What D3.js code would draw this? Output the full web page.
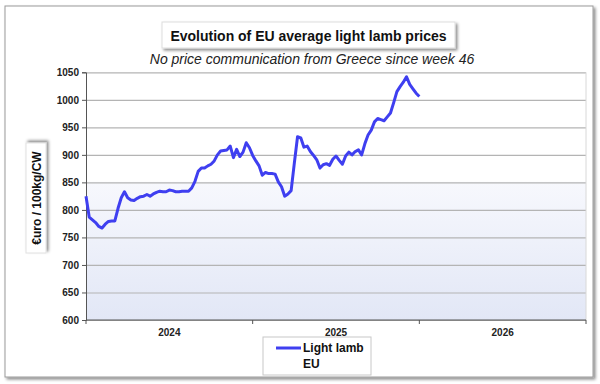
<!DOCTYPE html>
<html>
<head>
<meta charset="utf-8">
<script src="https://cdn.jsdelivr.net/npm/d3@7"></script>
<style>
  body { margin: 0; background: #fff; }
  svg { display: block; font-family: "Liberation Sans", Arial, sans-serif; }
  .axis text { font-size: 10px; font-weight: bold; fill: #222; }
</style>
</head>
<body>
<svg id="chart" width="600" height="384"></svg>
<script>
// === Data ===
const years = ['2024', '2025', '2026'];
const weeksPerYear = 52;
const yTicks = [600, 650, 700, 750, 800, 850, 900, 950, 1000, 1050];
// weekly EU light lamb price, €/100kg CW, from week 1 of 2024
const lightLamb = [
    825, 787, 782, 777, 770, 767, 774, 779, 780, 780,
    803, 822, 833, 822, 818, 817, 821, 824, 825, 828,
    825, 829, 832, 834, 833, 833, 836, 835, 833, 833,
    834, 834, 834, 840, 852, 870, 876, 876, 880, 883,
    889, 900, 907, 908, 909, 916, 895, 910, 897, 905,
    922, 913, 899, 889, 880, 863, 868, 866, 866, 865,
    851, 842, 825, 829, 835, 885, 933, 931, 914, 916,
    906, 899, 891, 876, 882, 884, 881, 892, 898, 890,
    883, 898, 905, 900, 906, 909, 900, 920, 936, 945,
    960, 966, 964, 962, 969, 976, 995, 1015, 1024, 1032,
    1042, 1028, 1020, 1012, 1006
];

const svg = d3.select('#chart');
const plot = { left: 86, right: 586, top: 72.3, bottom: 320 };

// Defs: shadow + background gradient
const defs = svg.append('defs');
const shadow = defs.append('filter').attr('id', 'shadow')
    .attr('x', '-10%').attr('y', '-10%').attr('width', '130%').attr('height', '140%');
shadow.append('feDropShadow')
    .attr('dx', 2).attr('dy', 2).attr('stdDeviation', 1.5)
    .attr('flood-color', '#000').attr('flood-opacity', 0.45);

const grad = defs.append('linearGradient').attr('id', 'bg')
    .attr('x1', 0).attr('y1', 0).attr('x2', 0).attr('y2', 1);
grad.append('stop').attr('offset', '0%').attr('stop-color', '#ffffff');
grad.append('stop').attr('offset', '44%').attr('stop-color', '#ffffff');
grad.append('stop').attr('offset', '44.5%').attr('stop-color', '#f7f8fd');
grad.append('stop').attr('offset', '100%').attr('stop-color', '#e2e7f6');

// Outer frame
svg.append('rect')
    .attr('x', 5).attr('y', 6).attr('width', 588).attr('height', 371)
    .attr('fill', '#fff').attr('stroke', '#9a9a9a').attr('stroke-width', 1)
    .attr('filter', 'url(#shadow)');

// Scales
const x = d3.scaleLinear()
    .domain([0, years.length * weeksPerYear])
    .range([plot.left, plot.right]);
const xBand = d3.scaleBand().domain(years).range([plot.left, plot.right]);
const y = d3.scaleLinear().domain([600, 1050]).range([plot.bottom, plot.top]);

// Plot background
svg.append('rect')
    .attr('x', plot.left).attr('y', plot.top)
    .attr('width', plot.right - plot.left).attr('height', plot.bottom - plot.top)
    .attr('fill', 'url(#bg)');

// Gridlines
svg.append('g')
    .attr('transform', `translate(${plot.left},0)`)
    .call(d3.axisLeft(y).tickValues(yTicks).tickSize(-(plot.right - plot.left)).tickFormat(''))
    .call(g => g.select('.domain').remove())
    .call(g => g.selectAll('line').attr('stroke', '#b4b4b4').attr('stroke-width', 1.2));

// right edge of plot
svg.append('line')
    .attr('x1', plot.right).attr('x2', plot.right)
    .attr('y1', plot.top).attr('y2', plot.bottom)
    .attr('stroke', '#d8d8d8');

// Y axis
svg.append('g')
    .attr('class', 'axis')
    .attr('transform', `translate(${plot.left},0)`)
    .call(d3.axisLeft(y).tickValues(yTicks).tickFormat(d3.format('d')).tickSize(4).tickPadding(3))
    .call(g => g.selectAll('path, line').attr('stroke', '#555'));

// X axis: ticks at year boundaries, labels centred in each year
const yearEdges = years.map(d => xBand(d)).concat([plot.right]);
const xAxis = svg.append('g').attr('class', 'axis');
xAxis.append('line')
    .attr('x1', plot.left).attr('x2', plot.right)
    .attr('y1', plot.bottom).attr('y2', plot.bottom)
    .attr('stroke', '#555');
xAxis.selectAll('.tick')
    .data(yearEdges)
    .join('line')
    .attr('x1', d => d).attr('x2', d => d)
    .attr('y1', plot.bottom).attr('y2', plot.bottom + 4)
    .attr('stroke', '#555');
xAxis.selectAll('text')
    .data(years)
    .join('text')
    .attr('x', d => xBand(d) + xBand.bandwidth() / 2)
    .attr('y', plot.bottom + 16)
    .attr('text-anchor', 'middle')
    .text(d => d);

// Line
const line = d3.line()
    .x((d, i) => x(i))
    .y(d => y(d));
svg.append('path')
    .datum(lightLamb)
    .attr('fill', 'none')
    .attr('stroke', '#3f3ff0')
    .attr('stroke-width', 3)
    .attr('stroke-linejoin', 'round')
    .attr('d', line);

// Title box
const titleG = svg.append('g');
titleG.append('rect')
    .attr('x', 162).attr('y', 22).attr('width', 293).attr('height', 26)
    .attr('fill', '#fff').attr('stroke', '#ddd')
    .attr('filter', 'url(#shadow)');
titleG.append('text')
    .attr('x', 308.5).attr('y', 41)
    .attr('text-anchor', 'middle')
    .attr('font-size', 14).attr('font-weight', 'bold')
    .attr('fill', '#111')
    .text('Evolution of EU average light lamb prices');

svg.append('text')
    .attr('x', 312).attr('y', 64)
    .attr('text-anchor', 'middle')
    .attr('font-size', 14).attr('font-style', 'italic')
    .attr('fill', '#222')
    .text('No price communication from Greece since week 46');

// Y label box
const yl = svg.append('g').attr('transform', 'translate(36,198) rotate(-90)');
yl.append('rect')
    .attr('x', -55).attr('y', -10).attr('width', 110).attr('height', 20)
    .attr('fill', '#fff').attr('stroke', '#e2e2e2')
    .attr('filter', 'url(#shadow)');
yl.append('text')
    .attr('x', 0).attr('y', 4.5)
    .attr('text-anchor', 'middle')
    .attr('font-size', 12).attr('font-weight', 'bold')
    .attr('fill', '#111')
    .text('€uro / 100kg/CW');

// Legend
const lg = svg.append('g');
lg.append('rect')
    .attr('x', 263).attr('y', 337).attr('width', 108).attr('height', 38)
    .attr('fill', '#fff').attr('stroke', '#c8c8c8');
lg.append('line')
    .attr('x1', 276).attr('x2', 301).attr('y1', 348).attr('y2', 348)
    .attr('stroke', '#3f3ff0').attr('stroke-width', 3);
lg.append('text')
    .attr('x', 303).attr('y', 352)
    .attr('font-size', 12).attr('font-weight', 'bold').attr('fill', '#111')
    .text('Light lamb');
lg.append('text')
    .attr('x', 303).attr('y', 368)
    .attr('font-size', 12).attr('font-weight', 'bold').attr('fill', '#111')
    .text('EU');
</script>
</body>
</html>
